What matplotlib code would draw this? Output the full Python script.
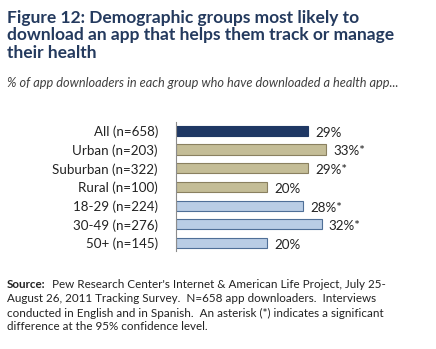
import matplotlib.pyplot as plt

groups = ['All (n=658)', 'Urban (n=203)', 'Suburban (n=322)', 'Rural (n=100)',
          '18-29 (n=224)', '30-49 (n=276)', '50+ (n=145)']
values = [29, 33, 29, 20, 28, 32, 20]
marks = ['', '*', '*', '', '*', '*', '']

navy = '#1f3864'
tan = '#c4bd97'
ltblue = '#b9cde5'
fills = [navy, tan, tan, tan, ltblue, ltblue, ltblue]
edges = ['#1f3864', '#8a8060', '#8a8060', '#8a8060', '#4f6f97', '#4f6f97', '#4f6f97']

W, H = 436, 349
fig = plt.figure(figsize=(W / 100, H / 100), dpi=100)
fig.patch.set_facecolor('white')
fnt = ['Lato', 'DejaVu Sans']

# title block
fig.text(7 / W, 1 - 10 / H,
         'Figure 12: Demographic groups most likely to\ndownload an app that helps them track or manage\ntheir health',
         ha='left', va='top', fontsize=12.5, fontweight='bold', color='#243a5e',
         family=fnt, linespacing=1.1)
fig.text(7 / W, 1 - 83 / H,
         '% of app downloaders in each group who have downloaded a health app...',
         ha='left', va='center', fontsize=9.2, style='italic', color='#404040', family=fnt)

ax = fig.add_axes([176 / W, 1 - 251 / H, 182 / W, 129 / H])
ypos = list(range(len(groups)))
ax.barh(ypos, values, height=0.55, color=fills, edgecolor=edges, linewidth=0.8)
for y, v, m in zip(ypos, values, marks):
    ax.text(v + 1.6, y + 0.1, f'{v}%{m}', ha='left', va='center',
            fontsize=9.6, color='#222222', family=fnt)

ax.set_xlim(0, 40)
ax.set_ylim(6.43, -0.48)
ax.set_yticks(ypos)
ax.set_yticklabels(groups, fontsize=9.6, color='#222222', family=fnt)
ax.tick_params(axis='y', length=0, pad=13)
ax.set_xticks([])
for s in ['top', 'right', 'bottom']:
    ax.spines[s].set_visible(False)
ax.spines['left'].set_color('#8c8c8c')
ax.spines['left'].set_linewidth(0.8)

# source note
src_lines = [
    "Pew Research Center's Internet & American Life Project, July 25-",
    "August 26, 2011 Tracking Survey.  N=658 app downloaders.  Interviews",
    "conducted in English and in Spanish.  An asterisk (*) indicates a significant",
    "difference at the 95% confidence level.",
]
fig.text(7 / W, 1 - 285 / H, 'Source:', ha='left', va='center', fontsize=8.4,
         fontweight='bold', color='#222222', family=fnt)
fig.text(52 / W, 1 - 285 / H, src_lines[0], ha='left', va='center', fontsize=8.4,
         color='#222222', family=fnt)
for i, line in enumerate(src_lines[1:], start=1):
    fig.text(7 / W, 1 - (285 + 14 * i) / H, line, ha='left', va='center',
             fontsize=8.4, color='#222222', family=fnt)

fig.savefig('out.png', dpi=100, facecolor='white')
